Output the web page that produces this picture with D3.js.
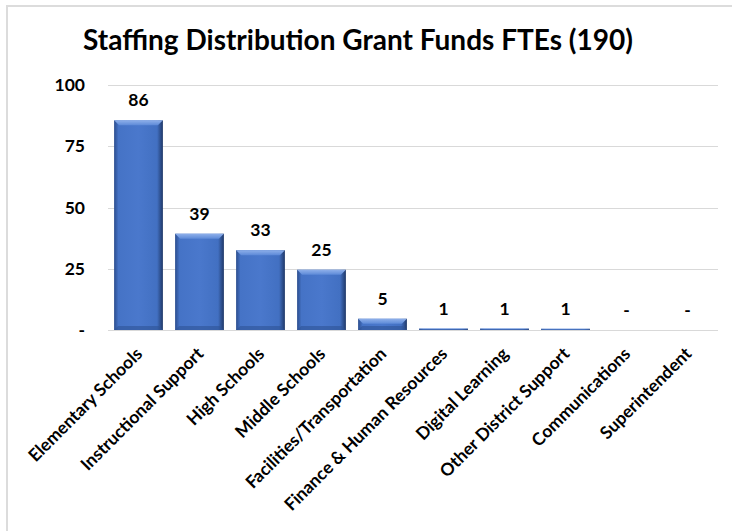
<!DOCTYPE html>
<html>
<head>
<meta charset="utf-8">
<script src="https://cdn.jsdelivr.net/npm/d3@7"></script>
<style>
  html, body { margin: 0; padding: 0; background: #fff; }
  svg { display: block; }
  text { font-family: Lato, "Open Sans", sans-serif; font-weight: bold; fill: #000; }
</style>
</head>
<body>
<svg id="chart" width="732" height="531"></svg>
<script>
const title = "Staffing Distribution Grant Funds FTEs (190)";
const categories = ["Elementary Schools", "Instructional Support", "High Schools", "Middle Schools",
  "Facilities/Transportation", "Finance & Human Resources", "Digital Learning",
  "Other District Support", "Communications", "Superintendent"];
const values = [85.6, 39.3, 32.6, 24.6, 4.6, 0.6, 0.6, 0.5, 0, 0];
const yTicks = [0, 25, 50, 75, 100];

const svg = d3.select("#chart");
const W = 732, H = 531;
const margin = { left: 108, right: 14, top: 85, bottom: 201 };

// outer frame
svg.append("rect").attr("x", 7).attr("y", 6).attr("width", W + 10).attr("height", H + 10)
  .attr("fill", "none").attr("stroke", "#dcdcdc").attr("stroke-width", 2);

svg.append("text").attr("x", 358).attr("y", 50).attr("text-anchor", "middle")
  .style("font-size", "28px").text(title);

const x = d3.scaleBand().domain(categories).range([margin.left, W - margin.right])
  .paddingInner(0.2).paddingOuter(0.1);
const y = d3.scaleLinear().domain([0, 100]).range([H - margin.bottom, margin.top]);

const fmt = v => v === 0 ? "-" : d3.format(".0f")(v);

// gridlines
svg.append("g").selectAll("line").data(yTicks).join("line")
  .attr("x1", margin.left).attr("x2", W - margin.right)
  .attr("y1", d => Math.round(y(d)) + 0.5).attr("y2", d => Math.round(y(d)) + 0.5)
  .attr("stroke", "#d9d9d9").attr("stroke-width", 1.2);

// y axis labels
const yAxis = d3.axisLeft(y).tickValues(yTicks).tickSize(0).tickPadding(23)
  .tickFormat(fmt);
const gy = svg.append("g").attr("transform", `translate(${margin.left},0)`).call(yAxis);
gy.select(".domain").remove();
gy.selectAll("text").style("font-size", "17.5px").style("font-family", "Lato, sans-serif")
  .style("font-weight", "bold").attr("fill", "#000");

// gradients
const defs = svg.append("defs");
const g1 = defs.append("linearGradient").attr("id", "barGrad").attr("x1", 0).attr("x2", 1).attr("y1", 0).attr("y2", 0);
g1.append("stop").attr("offset", "0%").attr("stop-color", "#2b4d8e");
g1.append("stop").attr("offset", "9%").attr("stop-color", "#4573c6");
g1.append("stop").attr("offset", "50%").attr("stop-color", "#4a78cc");
g1.append("stop").attr("offset", "88%").attr("stop-color", "#4270c2");
g1.append("stop").attr("offset", "100%").attr("stop-color", "#1f3868");
const g2 = defs.append("linearGradient").attr("id", "topGrad").attr("x1", 0).attr("x2", 0).attr("y1", 0).attr("y2", 1);
g2.append("stop").attr("offset", "0%").attr("stop-color", "#8fb0ea");
g2.append("stop").attr("offset", "100%").attr("stop-color", "#5d8ad8");

const data = categories.map((c, i) => ({ c, v: values[i] }));
const bars = svg.append("g").selectAll("g").data(data.filter(d => d.v > 0)).join("g");
bars.append("rect")
  .attr("x", d => x(d.c)).attr("width", x.bandwidth())
  .attr("y", d => y(d.v)).attr("height", d => y(0) - y(d.v))
  .attr("fill", "url(#barGrad)");
bars.append("path")
  .attr("d", d => {
    const x0 = x(d.c), x1 = x0 + x.bandwidth(), t = y(d.v);
    const b = Math.min(5, (y(0) - t) / 2);
    return `M${x0},${t}L${x1},${t}L${x1 - b},${t + b}L${x0 + b},${t + b}Z`;
  })
  .attr("fill", "url(#topGrad)");
bars.append("path")
  .attr("d", d => {
    const x0 = x(d.c), x1 = x0 + x.bandwidth(), t = y(d.v), bot = y(0);
    const b = Math.min(4, (bot - t) / 2);
    return `M${x0},${bot}L${x1},${bot}L${x1 - b},${bot - b}L${x0 + b},${bot - b}Z`;
  })
  .attr("fill", "#2f5496").attr("opacity", 0.6);

// value labels
svg.append("g").selectAll("text").data(data).join("text")
  .attr("x", d => x(d.c) + x.bandwidth() / 2)
  .attr("y", d => y(d.v) - 14)
  .attr("text-anchor", "middle")
  .style("font-size", "17.5px")
  .text(d => fmt(d.v));

// category labels
svg.append("g").selectAll("text").data(categories).join("text")
  .attr("transform", d => `translate(${x(d) + x.bandwidth() / 2 + 5},${y(0) + 25}) rotate(-45)`)
  .attr("text-anchor", "end")
  .style("font-size", "17.5px")
  .text(d => d);
</script>
</body>
</html>
